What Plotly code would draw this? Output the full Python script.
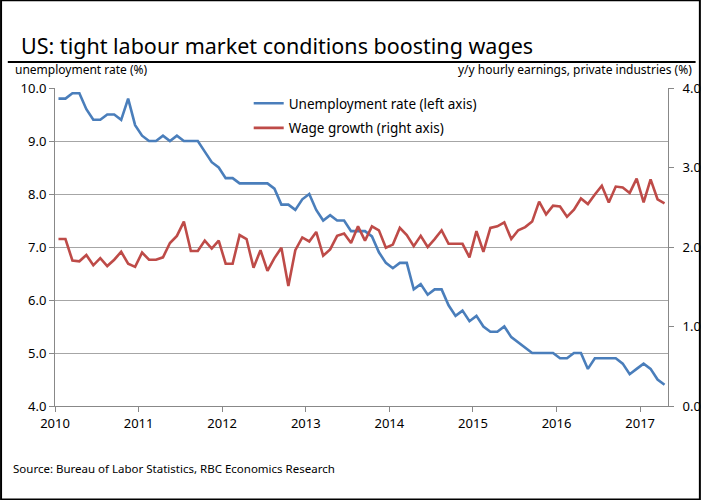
import plotly.graph_objects as go

years = ["2010", "2011", "2012", "2013", "2014", "2015", "2016", "2017"]

unemployment = [
    9.8, 9.8, 9.9, 9.9, 9.6, 9.4, 9.4, 9.5, 9.5, 9.4, 9.8, 9.3,
    9.1, 9.0, 9.0, 9.1, 9.0, 9.1, 9.0, 9.0, 9.0, 8.8, 8.6, 8.5,
    8.3, 8.3, 8.2, 8.2, 8.2, 8.2, 8.2, 8.1, 7.8, 7.8, 7.7, 7.9,
    8.0, 7.7, 7.5, 7.6, 7.5, 7.5, 7.3, 7.3, 7.3, 7.2, 6.9, 6.7,
    6.6, 6.7, 6.7, 6.2, 6.3, 6.1, 6.2, 6.2, 5.9, 5.7, 5.8, 5.6,
    5.7, 5.5, 5.4, 5.4, 5.5, 5.3, 5.2, 5.1, 5.0, 5.0, 5.0, 5.0,
    4.9, 4.9, 5.0, 5.0, 4.7, 4.9, 4.9, 4.9, 4.9, 4.8, 4.6, 4.7,
    4.8, 4.7, 4.5, 4.4,
]

wage_growth = [
    2.10, 2.10, 1.83, 1.82, 1.90, 1.77, 1.86, 1.76, 1.84, 1.94, 1.79, 1.75,
    1.93, 1.84, 1.84, 1.87, 2.05, 2.14, 2.32, 1.95, 1.95, 2.08, 1.98, 2.08,
    1.79, 1.79, 2.15, 2.10, 1.74, 1.96, 1.70, 1.86, 1.99, 1.51, 1.96, 2.12,
    2.07, 2.19, 1.89, 1.97, 2.14, 2.17, 2.05, 2.26, 2.08, 2.26, 2.21, 1.99,
    2.03, 2.24, 2.15, 2.01, 2.14, 2.00, 2.10, 2.21, 2.04, 2.04, 2.04, 1.87,
    2.20, 1.94, 2.24, 2.26, 2.31, 2.10, 2.21, 2.25, 2.32, 2.57, 2.41, 2.52,
    2.51, 2.38, 2.47, 2.61, 2.54, 2.66, 2.77, 2.56, 2.76, 2.75, 2.68, 2.86,
    2.56, 2.85, 2.60, 2.55,
]

months = list(range(len(unemployment)))
year_ticks = [i * 12 - 0.5 for i in range(len(years))]

FONT = "Noto Sans"
BLUE = "#4a7ebb"
RED = "#be4b48"
GRID = "#a6a6a6"

fig = go.Figure()
fig.add_trace(go.Scatter(
    x=months, y=unemployment, mode="lines", name="Unemployment rate (left axis)",
    line=dict(color=BLUE, width=2.6), yaxis="y", legendgroup="a",
))
fig.add_trace(go.Scatter(
    x=months, y=wage_growth, mode="lines", name="Wage growth (right axis)",
    line=dict(color=RED, width=2.6), yaxis="y2", legendgroup="b",
))

fig.update_layout(
    width=701, height=500,
    margin=dict(l=55, r=33, t=88, b=94),
    paper_bgcolor="white", plot_bgcolor="white",
    font=dict(family=FONT, size=13, color="black"),
    showlegend=True,
    legend=dict(
        x=0.316, y=1.0, xanchor="left", yanchor="top",
        bgcolor="rgba(0,0,0,0)", font=dict(size=13.5, family=FONT),
        traceorder="grouped", tracegroupgap=4, itemwidth=30,
    ),
    xaxis=dict(
        range=[-0.5, 87.5], tickvals=year_ticks, ticktext=years,
        showgrid=False, zeroline=False, showline=True, linecolor="#888888",
        ticks="outside", ticklen=5, tickcolor="#888888",
        tickfont=dict(size=13, family=FONT), automargin=False,
    ),
    yaxis=dict(
        range=[4, 10], dtick=1, tickformat=".1f",
        showgrid=True, gridcolor=GRID, gridwidth=1, zeroline=False,
        showline=True, linecolor="#888888",
        ticks="outside", ticklen=5, tickcolor="#888888",
        tickfont=dict(size=13, family=FONT), automargin=False,
    ),
    yaxis2=dict(
        range=[0, 4], dtick=1, tickformat=".1f", overlaying="y", side="right",
        showgrid=False, zeroline=False, showline=True, linecolor="#888888",
        ticks="outside", ticklen=5, tickcolor="#888888",
        tickfont=dict(size=13, family=FONT), ticklabelstandoff=6,
        automargin=False,
    ),
)

fig.add_annotation(
    text="US: tight labour market conditions boosting wages",
    xref="paper", yref="paper", x=-0.058, y=1.135, xanchor="left", yanchor="middle",
    showarrow=False, font=dict(size=21.5, family=FONT, color="black"),
)
fig.add_annotation(
    text="unemployment rate (%)", xref="paper", yref="paper",
    x=-0.068, y=1.058, xanchor="left", yanchor="middle", showarrow=False,
    font=dict(size=12, family=FONT),
)
fig.add_annotation(
    text="y/y hourly earnings, private industries (%)", xref="paper", yref="paper",
    x=1.042, y=1.058, xanchor="right", yanchor="middle", showarrow=False,
    font=dict(size=12, family=FONT),
)
fig.add_annotation(
    text="Source: Bureau of Labor Statistics, RBC Economics Research",
    xref="paper", yref="paper", x=-0.071, y=-0.195, xanchor="left", yanchor="middle",
    showarrow=False, font=dict(size=11.5, family=FONT),
)

# underline below title
fig.add_shape(type="line", xref="paper", yref="paper",
              x0=-0.077, x1=1.045, y0=1.082, y1=1.082,
              line=dict(color="black", width=2))
# outer frame
fig.add_shape(type="rect", xref="paper", yref="paper",
              x0=-0.088, x1=1.052, y0=-0.294, y1=1.276,
              line=dict(color="black", width=2))

fig.write_html("out.html")
